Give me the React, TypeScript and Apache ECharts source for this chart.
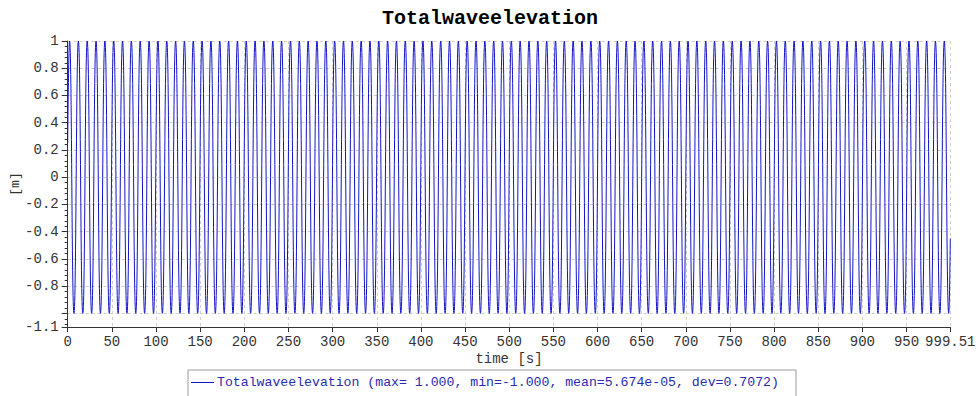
import React, { useEffect, useRef } from "react";
import * as echarts from "echarts";

// Times [s] of wave crests (+1 m) and troughs (-1 m)
const crestTimes: number[] = [
  2.1, 12.1, 22.1, 32.1, 42.1, 52.1, 62.1, 72.1, 82.1, 92.2,
  102.2, 112.2, 122.2, 132.2, 142.2, 152.2, 162.2, 172.2, 182.2, 192.2,
  202.2, 212.2, 222.2, 232.2, 242.2, 252.3, 262.3, 272.3, 282.3, 292.3,
  302.3, 312.3, 322.3, 332.3, 342.3, 352.3, 362.3, 372.3, 382.3, 392.3,
  402.3, 412.3, 422.4, 432.4, 442.4, 452.4, 462.4, 472.4, 482.4, 492.4,
  502.4, 512.4, 522.4, 532.4, 542.4, 552.4, 562.4, 572.4, 582.4, 592.5,
  602.5, 612.5, 622.5, 632.5, 642.5, 652.5, 662.5, 672.5, 682.5, 692.5,
  702.5, 712.5, 722.5, 732.5, 742.5, 752.6, 762.6, 772.6, 782.6, 792.6,
  802.6, 812.6, 822.6, 832.6, 842.6, 852.6, 862.6, 872.6, 882.6, 892.6,
  902.6, 912.6, 922.7, 932.7, 942.7, 952.7, 962.7, 972.7, 982.7, 992.7,
];
const troughTimes: number[] = [
  7.1, 17.1, 27.1, 37.1, 47.1, 57.1, 67.1, 77.1, 87.1, 97.2,
  107.2, 117.2, 127.2, 137.2, 147.2, 157.2, 167.2, 177.2, 187.2, 197.2,
  207.2, 217.2, 227.2, 237.2, 247.2, 257.3, 267.3, 277.3, 287.3, 297.3,
  307.3, 317.3, 327.3, 337.3, 347.3, 357.3, 367.3, 377.3, 387.3, 397.3,
  407.3, 417.3, 427.4, 437.4, 447.4, 457.4, 467.4, 477.4, 487.4, 497.4,
  507.4, 517.4, 527.4, 537.4, 547.4, 557.4, 567.4, 577.4, 587.4, 597.5,
  607.5, 617.5, 627.5, 637.5, 647.5, 657.5, 667.5, 677.5, 687.5, 697.5,
  707.5, 717.5, 727.5, 737.5, 747.5, 757.6, 767.6, 777.6, 787.6, 797.6,
  807.6, 817.6, 827.6, 837.6, 847.6, 857.6, 867.6, 877.6, 887.6, 897.6,
  907.6, 917.6, 927.7, 937.7, 947.7, 957.7, 967.7, 977.7, 987.7, 997.7,
];
const crestValue = 1.0;
const troughValue = -1.0;
// first and last samples of the record
const startSample: [number, number] = [0, 0.25];
const endSample: [number, number] = [999.51, -0.45];

// statistics shown in the legend
const statMax = 1.0;
const statMin = -1.0;
const statMean = 5.674e-5;
const statDev = 0.7072;

// axis ticks / labels
const xMin = 0;
const xMax = 999.51;
const xStep = 50;
const yMin = -1.1;
const yMax = 1.0;
const yTickValues = [1, 0.8, 0.6, 0.4, 0.2, 0, -0.2, -0.4, -0.6, -0.8, -1.0, -1.1];
const yLabelValues = [1, 0.8, 0.6, 0.4, 0.2, 0, -0.2, -0.4, -0.6, -0.8, -1.1];
const yMinorStep = 0.04;

const seriesName = "Totalwaveelevation";
const mono = "'Liberation Mono', 'DejaVu Sans Mono', monospace";
const lineBlue = "#1414c8";
const legendBlue = "#2a2ab0";
const axisGrey = "#333333";
const gridGrey = "#cfcfcf";

function buildSeries(): [number, number][] {
  const pts: [number, number][] = [startSample];
  crestTimes.forEach((t) => pts.push([t, crestValue]));
  troughTimes.forEach((t) => pts.push([t, troughValue]));
  pts.push(endSample);
  pts.sort((a, b) => a[0] - b[0]);
  return pts;
}

function minorTicks(): number[] {
  const out: number[] = [];
  const n = Math.round((yMax - yMin) / yMinorStep) + 1;
  for (let i = 0; i < n; i++) {
    const v = Math.round((yMax - i * yMinorStep) * 1000) / 1000;
    if (v >= yMin - 1e-9) out.push(v);
  }
  return out;
}

function fmtSigned(v: number, digits: number): string {
  const s = v.toFixed(digits);
  return v < 0 ? s : " " + s;
}

function fmtExp(v: number): string {
  const [m, e] = v.toExponential(3).split("e");
  const neg = e[0] === "-";
  const num = e.replace(/^[-+]/, "").padStart(2, "0");
  return `${m}e${neg ? "-" : "+"}${num}`;
}

const legendText =
  `${seriesName} (max=${fmtSigned(statMax, 3)}, min=${statMin.toFixed(3)}, ` +
  `mean=${fmtExp(statMean)}, dev=${statDev.toFixed(4)})`;

export default function App() {
  const ref = useRef<HTMLDivElement>(null);

  useEffect(() => {
    if (!ref.current) return;
    const chart = echarts.init(ref.current, undefined, { renderer: "svg" });
    chart.setOption({
      animation: false,
      backgroundColor: "#ffffff",
      title: {
        text: seriesName,
        left: "center",
        top: 3,
        textStyle: { fontFamily: mono, fontSize: 20, fontWeight: "bold", color: "#000" },
      },
      // legend box below the plot
      graphic: [
        {
          type: "rect",
          left: 187.5,
          top: 369.5,
          shape: { width: 608, height: 40 },
          style: { fill: "#ffffff", stroke: "#9a9a9a", lineWidth: 1 },
          silent: true,
        },
        {
          type: "line",
          shape: { x1: 191, y1: 382.5, x2: 214, y2: 382.5 },
          style: { stroke: lineBlue, lineWidth: 1 },
          silent: true,
        },
        {
          type: "text",
          x: 217,
          y: 382.5,
          style: {
            text: legendText,
            fontFamily: mono,
            fontSize: 13.2,
            fill: legendBlue,
            verticalAlign: "middle",
            align: "left",
          },
          silent: true,
        },
      ],
      grid: {
        left: 67.7,
        right: 29.7,
        top: 41,
        bottom: 69,
        containLabel: false,
        outerBoundsMode: "none",
      },
      xAxis: {
        type: "value",
        min: xMin,
        max: xMax,
        interval: xStep,
        name: "time [s]",
        nameLocation: "middle",
        nameGap: 25,
        nameMoveOverlap: false,
        nameTextStyle: { fontFamily: mono, fontSize: 14, color: axisGrey },
        axisLine: { show: true, onZero: false, lineStyle: { color: axisGrey, width: 1 } },
        axisTick: { show: true, length: 5, lineStyle: { color: axisGrey } },
        axisLabel: { fontFamily: mono, fontSize: 14, color: axisGrey, margin: 8 },
        splitLine: { show: true, lineStyle: { color: gridGrey, type: [3, 3], width: 1 } },
      },
      yAxis: [
        {
          type: "value",
          min: yMin,
          max: yMax,
          position: "left",
          name: "[m]",
          nameLocation: "middle",
          nameGap: 46,
          nameRotate: 90,
          nameMoveOverlap: false,
          nameTextStyle: { fontFamily: mono, fontSize: 13, color: axisGrey },
          axisLine: { show: true, onZero: false, lineStyle: { color: axisGrey, width: 1 } },
          axisTick: { show: true, length: 6, customValues: yTickValues, lineStyle: { color: axisGrey } },
          axisLabel: {
            customValues: yLabelValues,
            fontFamily: mono,
            fontSize: 14,
            color: axisGrey,
            margin: 9,
          },
          splitLine: { show: true, lineStyle: { color: gridGrey, type: [3, 3], width: 1 } },
        },
        {
          type: "value",
          min: yMin,
          max: yMax,
          position: "left",
          offset: 0,
          axisLine: { show: false, onZero: false },
          axisTick: { show: true, length: 3, customValues: minorTicks(), lineStyle: { color: axisGrey } },
          axisLabel: { show: false },
          splitLine: { show: false },
        },
      ],
      series: [
        {
          name: seriesName,
          type: "line",
          yAxisIndex: 0,
          data: buildSeries(),
          showSymbol: false,
          symbol: "none",
          smooth: 0.5,
          smoothMonotone: "x",
          lineStyle: { color: lineBlue, width: 1 },
          itemStyle: { color: lineBlue },
        },
      ],
    });
    return () => chart.dispose();
  }, []);

  return (
    <div
      ref={ref}
      style={{ position: "absolute", left: 0, top: 0, width: 980, height: 396 }}
    />
  );
}
